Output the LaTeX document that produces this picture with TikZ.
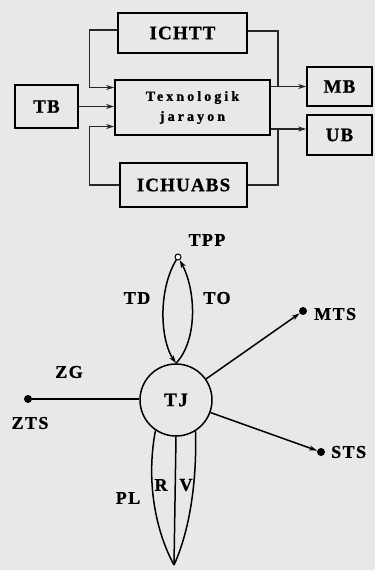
\documentclass[tikz,border=0pt]{standalone}
\usepackage{fontspec}
\newfontfamily\lbl{Liberation Serif}[LetterSpace=6,FakeBold=1]
\newfontfamily\lbla{Liberation Serif}[LetterSpace=8,FakeBold=1]
\newfontfamily\lbls{Liberation Serif}[LetterSpace=22,FakeBold=1]
\usetikzlibrary{arrows.meta,calc}
\begin{document}
\begin{tikzpicture}[x=1pt,y=1pt,
  bx/.style={draw, line width=1.7pt, inner sep=0pt, font=\lbl\bfseries\fontsize{19}{19}\selectfont},
  conn/.style={line width=1.1pt, draw=black!85},
  arr/.style={conn, -{Stealth[length=8pt,width=5pt]}},
  edge/.style={line width=1.5pt},
  earr/.style={edge, -{Stealth[length=8pt,width=5pt]}},
  lab/.style={inner sep=0pt, font=\lbla\bfseries\fontsize{18}{18}\selectfont},
  dot/.style={circle, fill=black, inner sep=0pt, minimum size=8pt}]
\fill[black!9] (0,0) rectangle (375,-570);
\useasboundingbox (0,0) rectangle (375,-570);
% top block diagram
\node[bx, minimum width=129pt, minimum height=40pt] (ichtt) at (182.5,-33) {ICHTT};
\node[bx, minimum width=155pt, minimum height=55pt, align=center,
      font=\lbls\bfseries\fontsize{14}{20}\selectfont] (tex) at (192.5,-107.5) {Texnologik\\jarayon};
\node[bx, minimum width=63pt, minimum height=43pt] (tb) at (46.5,-106.5) {TB};
\node[bx, minimum width=65pt, minimum height=39pt] (mb) at (339.5,-86.5) {MB};
\node[bx, minimum width=65pt, minimum height=40pt] (ub) at (339.5,-135) {UB};
\node[bx, minimum width=127pt, minimum height=44pt] (ichuabs) at (183.5,-185) {ICHUABS};
\coordinate (jm) at (278,-86.5);
\coordinate (ju) at (278,-129);
\draw[arr] ([yshift=3pt]ichtt.west) -- ++(-28,0) |- ([yshift=20pt]tex.west);
\draw[arr] (tb.east) -- (tb.east -| tex.west);
\draw[arr] (ichuabs.west) -- ++(-30,0) |- ([yshift=-19pt]tex.west);
\draw[arr] (tex.east |- mb.west) -- (mb.west);
\draw[arr] (tex.east |- ju) -- (ju -| ub.west);
\draw[conn] ([yshift=2pt]ichtt.east) -| (jm);
\draw[conn] (ichuabs.east) -| (ju);
% bottom star diagram
\node[circle, draw, line width=1.5pt, minimum size=72pt, inner sep=0pt, font=\lbla\bfseries\fontsize{19}{19}\selectfont] (tj) at (176,-400) {TJ};
\node[circle, draw, line width=1pt, fill=white, minimum size=6pt, inner sep=0pt] (tpp) at (178,-257) {};
\node[lab] (tppl) at (207,-240) {TPP};
\draw[earr] (tpp) .. controls (158,-290) and (160,-340) .. (tj.north);
\draw[earr] (tj.north) .. controls (198,-340) and (196,-290) .. (tpp);
\node[lab] (tdl) at (137,-298) {TD};
\node[lab] (tol) at (217,-298) {TO};
\node[dot] (mts) at (303,-311) {};
\node[lab, anchor=west] (mtsl) at (314,-314) {MTS};
\draw[earr] (tj.35) -- (mts);
\node[dot] (sts) at (321,-452) {};
\node[lab, anchor=west] (stsl) at (331,-452) {STS};
\draw[earr] (tj.-20) -- (sts);
\node[dot] (zts) at (28,-399) {};
\node[lab] (ztsl) at (30,-423) {ZTS};
\node[lab] (zgl) at (69,-372) {ZG};
\draw[edge] (tj.west |- zts) -- (zts);
\coordinate (bot) at (174,-565);
\draw[edge] (tj.236) .. controls (146,-480) and (155,-530) .. (bot);
\draw[edge] (tj.south) -- (bot);
\draw[edge] (tj.302) .. controls (197,-480) and (190,-530) .. (bot);
\node[lab] (pll) at (128,-498) {PL};
\node[lab] (rl) at (161,-485) {R};
\node[lab] (vl) at (186,-485) {V};
\end{tikzpicture}
\end{document}
